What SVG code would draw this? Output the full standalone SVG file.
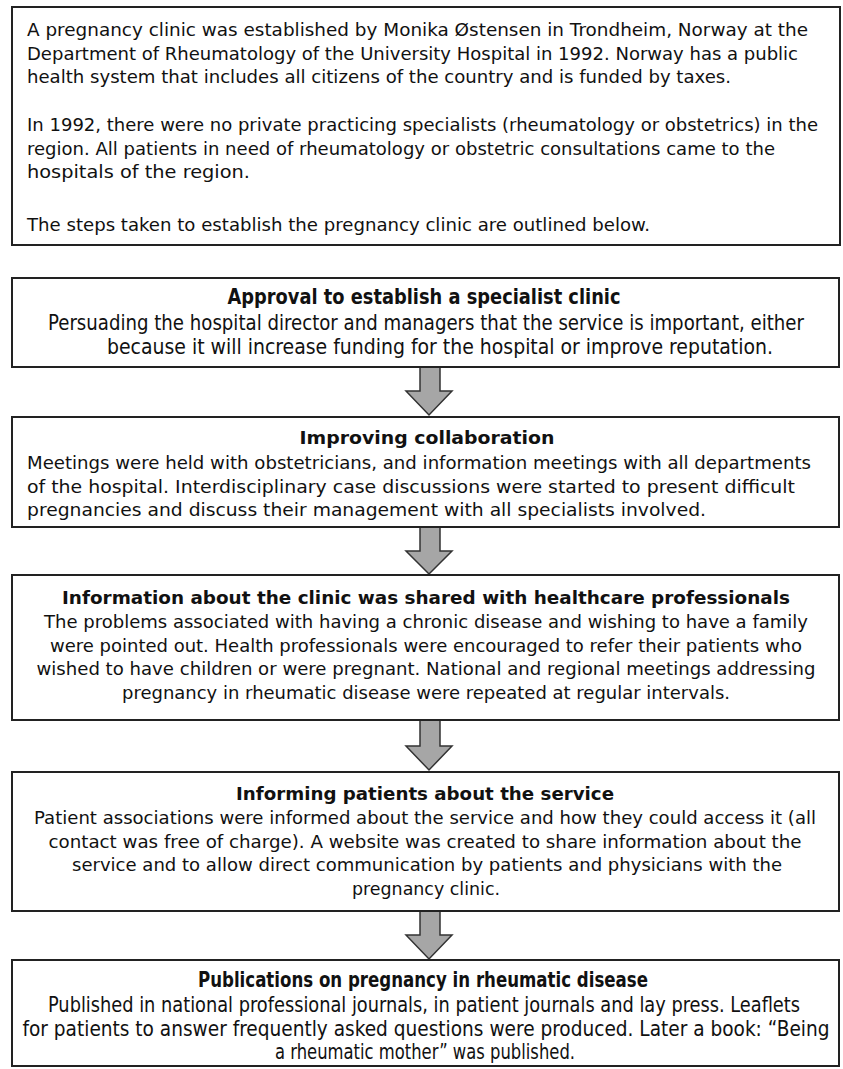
<svg xmlns="http://www.w3.org/2000/svg" width="843" height="1069" viewBox="0 0 843 1069">
<style>
.box{fill:#fff;stroke:#222;stroke-width:2}
.t{font-family:"DejaVu Sans",Verdana,sans-serif;font-size:17.5px;fill:#111}
.h{font-weight:bold;text-anchor:middle}
.c{text-anchor:middle}
.n{font-family:"DejaVu Sans Condensed","DejaVu Sans",sans-serif;font-stretch:condensed;font-size:20.5px}
.arr{fill:#a6a6a6;stroke:#333;stroke-width:1.5;stroke-linejoin:miter}
</style>
<rect width="843" height="1069" fill="#fff"/>
<g id="intro">
<rect class="box" x="12" y="7" width="828" height="238"/>
<text class="t" x="27" y="36" textLength="781" lengthAdjust="spacingAndGlyphs">A pregnancy clinic was established by Monika Østensen in Trondheim, Norway at the</text>
<text class="t" x="27" y="60" textLength="771" lengthAdjust="spacingAndGlyphs">Department of Rheumatology of the University Hospital in 1992. Norway has a public</text>
<text class="t" x="27" y="83" textLength="704" lengthAdjust="spacingAndGlyphs">health system that includes all citizens of the country and is funded by taxes.</text>
<text class="t" x="27" y="131" textLength="791" lengthAdjust="spacingAndGlyphs">In 1992, there were no private practicing specialists (rheumatology or obstetrics) in the</text>
<text class="t" x="27" y="155" textLength="748" lengthAdjust="spacingAndGlyphs">region. All patients in need of rheumatology or obstetric consultations came to the</text>
<text class="t" x="27" y="178" textLength="223" lengthAdjust="spacingAndGlyphs">hospitals of the region.</text>
<text class="t" x="27" y="231" textLength="623" lengthAdjust="spacingAndGlyphs">The steps taken to establish the pregnancy clinic are outlined below.</text>
</g>
<g id="connectors">
<polygon class="arr" points="420,367 440,367 440,391 452,391 429,415 406,391 420,391"/>
<polygon class="arr" points="420,527 440,527 440,551 452,551 429,574 406,551 420,551"/>
<polygon class="arr" points="420,720 440,720 440,746 452,746 429,770 406,746 420,746"/>
<polygon class="arr" points="420,911 440,911 440,935 452,935 429,959 406,935 420,935"/>
</g>
<g id="step1">
<rect class="box" x="12" y="278" width="827" height="89"/>
<text class="t h n" x="424" y="304" textLength="393" lengthAdjust="spacingAndGlyphs">Approval to establish a specialist clinic</text>
<text class="t c n" x="426" y="330" textLength="756" lengthAdjust="spacingAndGlyphs">Persuading the hospital director and managers that the service is important, either</text>
<text class="t c n" x="440" y="354" textLength="666" lengthAdjust="spacingAndGlyphs">because it will increase funding for the hospital or improve reputation.</text>
</g>
<g id="step2">
<rect class="box" x="12" y="417" width="827" height="110"/>
<text class="t h" x="427" y="444" textLength="255" lengthAdjust="spacingAndGlyphs">Improving collaboration</text>
<text class="t" x="27" y="469" textLength="784" lengthAdjust="spacingAndGlyphs">Meetings were held with obstetricians, and information meetings with all departments</text>
<text class="t" x="27" y="493" textLength="768" lengthAdjust="spacingAndGlyphs">of the hospital. Interdisciplinary case discussions were started to present difficult</text>
<text class="t" x="27" y="516" textLength="679" lengthAdjust="spacingAndGlyphs">pregnancies and discuss their management with all specialists involved.</text>
</g>
<g id="step3">
<rect class="box" x="12" y="575" width="827" height="145"/>
<text class="t h" x="426" y="604" textLength="728" lengthAdjust="spacingAndGlyphs">Information about the clinic was shared with healthcare professionals</text>
<text class="t c" x="426" y="628" textLength="764" lengthAdjust="spacingAndGlyphs">The problems associated with having a chronic disease and wishing to have a family</text>
<text class="t c" x="426" y="652" textLength="752" lengthAdjust="spacingAndGlyphs">were pointed out. Health professionals were encouraged to refer their patients who</text>
<text class="t c" x="426" y="675" textLength="779" lengthAdjust="spacingAndGlyphs">wished to have children or were pregnant. National and regional meetings addressing</text>
<text class="t c" x="426" y="699" textLength="608" lengthAdjust="spacingAndGlyphs">pregnancy in rheumatic disease were repeated at regular intervals.</text>
</g>
<g id="step4">
<rect class="box" x="12" y="772" width="827" height="139"/>
<text class="t h" x="425" y="800" textLength="378" lengthAdjust="spacingAndGlyphs">Informing patients about the service</text>
<text class="t c" x="425" y="824" textLength="782" lengthAdjust="spacingAndGlyphs">Patient associations were informed about the service and how they could access it (all</text>
<text class="t c" x="425" y="848" textLength="753" lengthAdjust="spacingAndGlyphs">contact was free of charge). A website was created to share information about the</text>
<text class="t c" x="427" y="871" textLength="710" lengthAdjust="spacingAndGlyphs">service and to allow direct communication by patients and physicians with the</text>
<text class="t c" x="426" y="895" textLength="148" lengthAdjust="spacingAndGlyphs">pregnancy clinic.</text>
</g>
<g id="step5">
<rect class="box" x="12" y="960" width="827" height="106"/>
<text class="t h n" x="423" y="987" textLength="450" lengthAdjust="spacingAndGlyphs">Publications on pregnancy in rheumatic disease</text>
<text class="t c n" x="424" y="1012" textLength="752" lengthAdjust="spacingAndGlyphs">Published in national professional journals, in patient journals and lay press. Leaflets</text>
<text class="t c n" x="426" y="1036" textLength="807" lengthAdjust="spacingAndGlyphs">for patients to answer frequently asked questions were produced. Later a book: “Being</text>
<text class="t c n" x="425" y="1059" textLength="300" lengthAdjust="spacingAndGlyphs">a rheumatic mother” was published.</text>
</g>
</svg>
